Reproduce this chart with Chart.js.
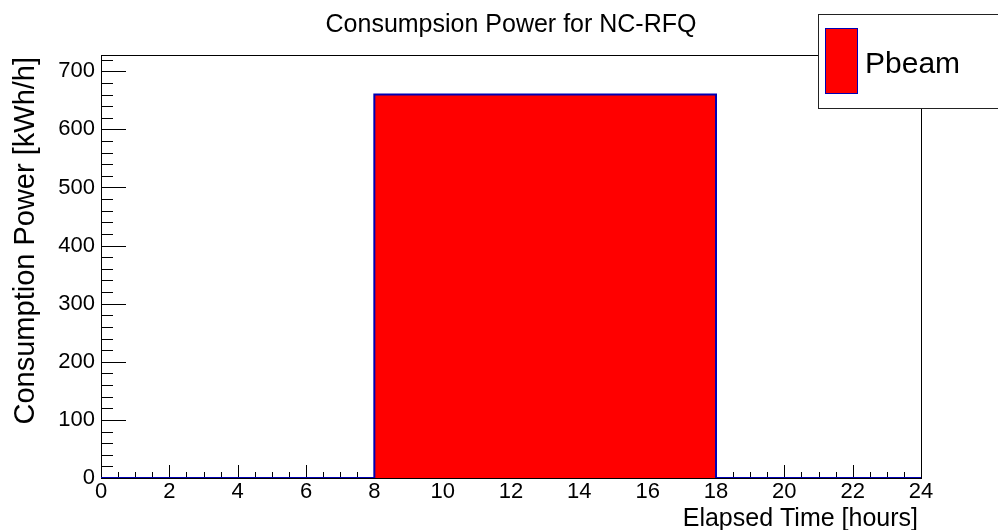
<!DOCTYPE html>
<html>
<head>
<meta charset="utf-8">
<script src="https://cdn.jsdelivr.net/npm/chart.js@4.4.1/dist/chart.umd.min.js"></script>
<style>
  html, body { margin: 0; padding: 0; background: #fff; }
  #wrap { width: 998px; height: 530px; }
</style>
</head>
<body>
<div id="wrap"><canvas id="powerChart" width="998" height="530"></canvas></div>
<script>
  // histogram bins: 1 hour each, edges 0..24
  const binEdges = [0, 1, 2, 3, 4, 5, 6, 7, 8, 9, 10, 11, 12, 13, 14, 15, 16, 17, 18, 19, 20, 21, 22, 23, 24];
  const pbeam = [0, 0, 0, 0, 0, 0, 0, 0, 660, 660, 660, 660, 660, 660, 660, 660, 660, 660, 0, 0, 0, 0, 0, 0];
  const xTickValues = [0, 2, 4, 6, 8, 10, 12, 14, 16, 18, 20, 22, 24];
  const yTickValues = [0, 100, 200, 300, 400, 500, 600, 700];
  const yMax = 728;

  const chartTitle = 'Consumpsion Power for NC-RFQ';
  const xTitle = 'Elapsed Time [hours]';
  const yTitle = 'Consumption Power [kWh/h]';
  const seriesName = 'Pbeam';

  const FONT = '"Liberation Sans", Arial, Helvetica, sans-serif';

  const rootStyle = {
    id: 'rootStyle',
    beforeDatasetsDraw(chart) {
      const { ctx, chartArea: a, scales: { x, y } } = chart;
      ctx.save();
      ctx.strokeStyle = '#000';
      ctx.lineWidth = 1;
      ctx.beginPath();
      // y ticks, drawn inward
      for (let v = 0; v <= yMax; v += 20) {
        const py = Math.round(y.getPixelForValue(v)) + 0.5;
        const len = v % 100 === 0 ? 25 : 12;
        ctx.moveTo(a.left, py);
        ctx.lineTo(a.left + len, py);
      }
      // x ticks, drawn inward
      for (let v = 0; v <= 24; v += 0.5) {
        const px = Math.round(x.getPixelForValue(v)) + 0.5;
        const len = v % 2 === 0 ? 13 : 6;
        ctx.moveTo(px, a.bottom);
        ctx.lineTo(px, a.bottom - len);
      }
      ctx.stroke();
      ctx.strokeRect(Math.round(a.left) + 0.5, Math.round(a.top) + 0.5,
        Math.round(a.right - a.left), Math.round(a.bottom - a.top));
      ctx.restore();
    },
    afterDraw(chart) {
      const { ctx, chartArea: a } = chart;
      ctx.save();
      ctx.fillStyle = '#000';

      ctx.font = '25px ' + FONT;
      ctx.textAlign = 'center';
      ctx.textBaseline = 'alphabetic';
      ctx.fillText(chartTitle, (a.left + a.right) / 2, 32);

      ctx.textAlign = 'right';
      ctx.fillText(xTitle, a.right - 3, 526);

      ctx.save();
      ctx.font = '29px ' + FONT;
      ctx.translate(34, a.top + 2);
      ctx.rotate(-Math.PI / 2);
      ctx.textAlign = 'right';
      ctx.fillText(yTitle, 0, 0);
      ctx.restore();

      // legend box
      const ds = chart.data.datasets[0];
      ctx.fillStyle = '#fff';
      ctx.fillRect(818, 14, 190, 94);
      ctx.strokeStyle = '#222';
      ctx.lineWidth = 1;
      ctx.strokeRect(818.5, 14.5, 190, 94);
      ctx.fillStyle = ds.backgroundColor;
      ctx.fillRect(825, 28, 33, 66);
      ctx.strokeStyle = ds.borderColor;
      ctx.strokeRect(825.5, 28.5, 32, 65);
      ctx.fillStyle = '#000';
      ctx.font = '30px ' + FONT;
      ctx.textAlign = 'left';
      ctx.fillText(ds.label, 865, 73);
      ctx.restore();
    }
  };

  new Chart(document.getElementById('powerChart'), {
    type: 'line',
    data: {
      datasets: [{
        label: seriesName,
        data: binEdges.map((edge, i) => ({ x: edge, y: pbeam[Math.min(i, pbeam.length - 1)] })),
        stepped: true,
        fill: 'origin',
        backgroundColor: '#ff0000',
        borderColor: '#0000b4',
        borderWidth: 2,
        pointRadius: 0
      }]
    },
    options: {
      responsive: false,
      animation: false,
      devicePixelRatio: 1,
      layout: { padding: { top: 55, right: 77, left: 0, bottom: 0 } },
      plugins: { legend: { display: false }, tooltip: { enabled: false }, title: { display: false } },
      scales: {
        x: {
          type: 'linear',
          min: 0,
          max: 24,
          afterBuildTicks: (s) => { s.ticks = xTickValues.map((v) => ({ value: v })); },
          afterFit: (s) => { s.height = 52; },
          grid: { display: false, drawTicks: false },
          border: { display: false },
          ticks: { font: { family: FONT, size: 22 }, color: '#000', padding: 1, maxRotation: 0, autoSkip: false }
        },
        y: {
          type: 'linear',
          min: 0,
          max: yMax,
          afterBuildTicks: (s) => { s.ticks = yTickValues.map((v) => ({ value: v })); },
          afterFit: (s) => { s.width = 101; },
          grid: { display: false, drawTicks: false },
          border: { display: false },
          ticks: { font: { family: FONT, size: 22 }, color: '#000', padding: 6, autoSkip: false }
        }
      }
    },
    plugins: [rootStyle]
  });
</script>
</body>
</html>
